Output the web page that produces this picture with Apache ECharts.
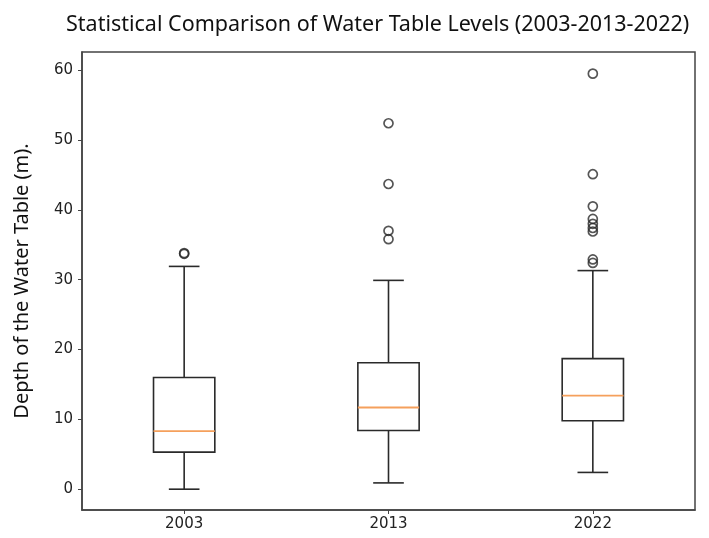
<!DOCTYPE html>
<html>
<head>
<meta charset="utf-8">
<script src="https://cdn.jsdelivr.net/npm/echarts@6/dist/echarts.min.js"></script>
<style>html,body{margin:0;padding:0;background:#fff;}#main{width:709px;height:538px;}</style>
</head>
<body>
<div id="main"></div>
<script>
const categories = ['2003', '2013', '2022'];
const whiskerLow = [0.0, 0.9, 2.4];
const q1 = [5.3, 8.4, 9.8];
const median = [8.3, 11.7, 13.4];
const q3 = [16.0, 18.1, 18.7];
const whiskerHigh = [31.9, 29.9, 31.3];
const outliers2003 = [33.7, 33.8];
const outliers2013 = [35.8, 37.0, 43.7, 52.4];
const outliers2022 = [32.4, 32.9, 36.9, 37.4, 38.0, 38.7, 40.5, 45.1, 59.5];
const yTicks = [0, 10, 20, 30, 40, 50, 60];

const boxData = categories.map((c, i) => [i, whiskerLow[i], q1[i], median[i], q3[i], whiskerHigh[i]]);
const outlierData = [];
[outliers2003, outliers2013, outliers2022].forEach((arr, i) => arr.forEach(v => outlierData.push([i, v])));

const chart = echarts.init(document.getElementById('main'));
const BOXW = 0.3, CAPW = 0.15;
chart.setOption({
  animation: false,
  title: {
    text: 'Statistical Comparison of Water Table Levels (2003-2013-2022)',
    left: 61, top: 9,
    textStyle: { fontFamily: 'Noto Sans', fontSize: 21.5, fontWeight: 'normal', color: '#111' }
  },
  grid: { left: 82, right: 14, top: 52, bottom: 28, show: true, borderColor: '#444', borderWidth: 1.5, backgroundColor: 'transparent' },
  xAxis: {
    type: 'category', data: categories, boundaryGap: true,
    axisLine: { show: true, onZero: false, lineStyle: { color: '#444', width: 1.5 } },
    axisTick: { show: true, alignWithLabel: true, length: 4, lineStyle: { color: '#444' } },
    axisLabel: { color: '#222', fontSize: 15, fontFamily: 'DejaVu Sans', margin: 7 },
    splitLine: { show: false }
  },
  yAxis: {
    type: 'value', min: -2.98, max: 62.6,
    name: 'Depth of the Water Table (m).', nameLocation: 'middle', nameRotate: 90, nameGap: 50,
    nameTextStyle: { fontFamily: 'Noto Sans', fontSize: 20, color: '#111' },
    axisLine: { show: true, lineStyle: { color: '#444', width: 1.5 } },
    axisTick: { show: true, length: 4, customValues: yTicks, lineStyle: { color: '#444' } },
    axisLabel: { color: '#222', fontSize: 15, fontFamily: 'DejaVu Sans', margin: 9, customValues: yTicks },
    splitLine: { show: false }
  },
  series: [
    {
      type: 'custom',
      data: boxData,
      encode: { x: 0, y: [1, 2, 3, 4, 5] },
      renderItem: function (params, api) {
        const x = api.value(0);
        const pLow = api.coord([x, api.value(1)]);
        const pQ1 = api.coord([x, api.value(2)]);
        const pMed = api.coord([x, api.value(3)]);
        const pQ3 = api.coord([x, api.value(4)]);
        const pHigh = api.coord([x, api.value(5)]);
        const band = api.size([1, 0])[0];
        const bw = band * BOXW, cw = band * CAPW;
        const cx = pMed[0];
        const black = { stroke: '#2a2a2a', lineWidth: 1.6, fill: null };
        return {
          type: 'group',
          children: [
            { type: 'line', shape: { x1: cx, y1: pLow[1], x2: cx, y2: pQ1[1] }, style: black },
            { type: 'line', shape: { x1: cx, y1: pQ3[1], x2: cx, y2: pHigh[1] }, style: black },
            { type: 'line', shape: { x1: cx - cw / 2, y1: pLow[1], x2: cx + cw / 2, y2: pLow[1] }, style: black },
            { type: 'line', shape: { x1: cx - cw / 2, y1: pHigh[1], x2: cx + cw / 2, y2: pHigh[1] }, style: black },
            { type: 'rect', shape: { x: cx - bw / 2, y: pQ3[1], width: bw, height: pQ1[1] - pQ3[1] }, style: { stroke: '#2a2a2a', lineWidth: 1.6, fill: 'none' } },
            { type: 'line', shape: { x1: cx - bw / 2, y1: pMed[1], x2: cx + bw / 2, y2: pMed[1] }, style: { stroke: '#f5a05c', lineWidth: 1.8 } }
          ]
        };
      }
    },
    {
      type: 'scatter',
      data: outlierData,
      symbol: 'circle',
      symbolSize: 9,
      itemStyle: { color: 'rgba(0,0,0,0)', borderColor: '#2a2a2a', borderWidth: 1.7 }
    }
  ]
});
</script>
</body>
</html>
